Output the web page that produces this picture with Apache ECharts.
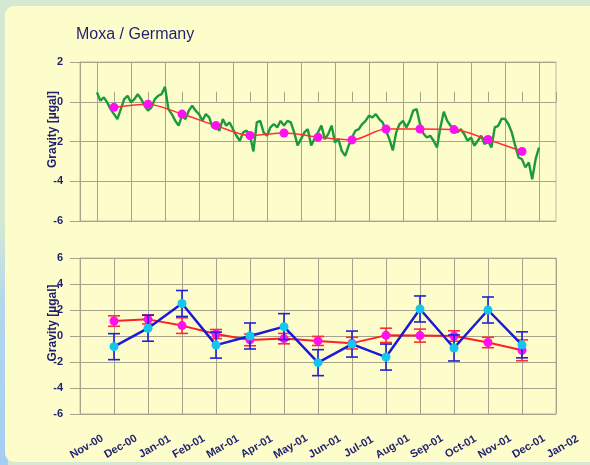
<!DOCTYPE html>
<html>
<head>
<meta charset="utf-8">
<script src="https://cdn.jsdelivr.net/npm/echarts@6/dist/echarts.min.js"></script>
<style>
  html, body { margin: 0; padding: 0; background: #d5e9d2; }
  #chart { width: 590px; height: 465px; }
</style>
</head>
<body>
<div id="chart"></div>
<script>
// Month tick labels along the shared time axis (axis unit = months from Nov-00)
const monthLabels = ['Nov-00', 'Dec-00', 'Jan-01', 'Feb-01', 'Mar-01', 'Apr-01', 'May-01',
  'Jun-01', 'Jul-01', 'Aug-01', 'Sep-01', 'Oct-01', 'Nov-01', 'Dec-01', 'Jan-02'];

// Monthly points are plotted at Dec-00 ... Dec-01
const monthlyAt = [1, 2, 3, 4, 5, 6, 7, 8, 9, 10, 11, 12, 13];

// Continuous gravity residual record [µgal], sampled every 0.1 month from mid Nov-00
const residualStart = 0.5;
const residualStep = 0.1;
const residual = [
  0.47, 0.05, 0.22, -0.03, -0.37, -0.62, -0.87, -0.37, 0.13, 0.30,
  -0.03, 0.13, 0.38, 0.13, -0.20, -0.45, -0.28, 0.13, 0.30, 0.38,
  0.75, -0.37, -0.62, -0.95, -1.20, -0.70, -0.87, -0.45, -0.20, -0.45,
  -0.62, -0.96, -0.62, -0.79, -1.29, -1.29, -1.46, -0.87, -1.20, -1.04,
  -1.38, -1.71, -1.96, -1.54, -1.45, -1.70, -2.50, -1.04, -0.96, -1.54,
  -1.71, -1.29, -1.12, -1.29, -0.96, -1.20, -0.96, -1.04, -1.54, -2.20,
  -1.88, -1.54, -1.38, -2.20, -1.85, -1.54, -1.20, -1.88, -1.63, -1.20,
  -2.05, -1.88, -2.47, -2.72, -2.21, -1.80, -1.46, -1.38, -1.12, -0.96,
  -0.70, -0.79, -0.62, -0.87, -1.04, -1.46, -1.88, -2.45, -1.54, -1.12,
  -0.96, -1.29, -0.96, -0.45, -0.37, -1.12, -1.60, -1.80, -1.71, -1.96,
  -2.30, -1.29, -0.50, -0.96, -1.21, -1.38, -1.54, -1.38, -1.63, -1.96,
  -1.80, -2.21, -1.96, -1.71, -2.13, -1.96, -2.30, -1.29, -1.21, -0.85,
  -0.87, -1.12, -1.54, -2.21, -2.80, -2.89, -3.30, -3.05, -3.90, -2.89,
  -2.30
];

// Monthly means of the residual record [µgal]
const monthlyMean = [-0.28, -0.12, -0.62, -1.20, -1.70, -1.57, -1.78, -1.92, -1.37, -1.37, -1.40, -1.90, -2.50];

// Lower panel: two monthly series with their uncertainties [µgal]
const seriesA = [1.15, 1.28, 0.80, 0.15, -0.30, -0.20, -0.38, -0.55, 0.05, 0.03, 0.00, -0.50, -1.10];
const seriesAErr = [0.40, 0.35, 0.60, 0.35, 0.45, 0.40, 0.35, 0.45, 0.55, 0.50, 0.40, 0.40, 0.80];
const seriesB = [-0.82, 0.60, 2.50, -0.70, 0.00, 0.72, -2.05, -0.62, -1.62, 2.08, -0.92, 2.00, -0.68];
const seriesBErr = [1.00, 1.00, 1.00, 1.00, 1.00, 1.00, 1.00, 1.00, 1.00, 1.00, 1.00, 1.00, 1.00];

const navy = '#1f1f6e';
const gridColor = '#a6a48a';
const textFont = 'Liberation Sans, Arial, sans-serif';

const residualData = residual.map((v, i) => [residualStart + i * residualStep, v]);
const meanData = monthlyMean.map((v, i) => [monthlyAt[i], v]);
const aData = seriesA.map((v, i) => [monthlyAt[i], v]);
const bData = seriesB.map((v, i) => [monthlyAt[i], v]);
const aErrData = seriesA.map((v, i) => [monthlyAt[i], v, seriesAErr[i]]);
const bErrData = seriesB.map((v, i) => [monthlyAt[i], v, seriesBErr[i]]);

function errorBars(color) {
  return function (params, api) {
    const x = api.value(0), v = api.value(1), e = api.value(2);
    const hi = api.coord([x, v + e]);
    const lo = api.coord([x, v - e]);
    const hw = 6;
    const style = { stroke: color, lineWidth: 1.6 };
    return {
      type: 'group',
      children: [
        { type: 'line', shape: { x1: hi[0], y1: hi[1], x2: lo[0], y2: lo[1] }, style },
        { type: 'line', shape: { x1: hi[0] - hw, y1: hi[1], x2: hi[0] + hw, y2: hi[1] }, style },
        { type: 'line', shape: { x1: lo[0] - hw, y1: lo[1], x2: lo[0] + hw, y2: lo[1] }, style }
      ]
    };
  };
}

const yAxisCommon = {
  type: 'value',
  interval: 2,
  name: 'Gravity [µgal]',
  nameLocation: 'middle',
  nameRotate: 90,
  nameGap: 21,
  nameMoveOverlap: false,
  axisLine: { show: true, lineStyle: { color: gridColor, width: 1 } },
  axisTick: { show: true, inside: false, length: 10, lineStyle: { color: gridColor } },
  axisLabel: { color: navy, fontWeight: 'bold', fontSize: 11, fontFamily: textFont, margin: 17 },
  splitLine: { show: true, lineStyle: { color: gridColor, width: 1 } }
};

const chart = echarts.init(document.getElementById('chart'), null, { renderer: 'canvas' });

chart.setOption({
  backgroundColor: '#d5e9d2',
  animation: false,
  graphic: [
    {
      type: 'rect', z: -10,
      shape: { x: 0, y: 220, width: 8, height: 245 },
      style: {
        fill: new echarts.graphic.LinearGradient(0, 0, 0, 1, [
          { offset: 0, color: '#d5e9d2' },
          { offset: 0.35, color: '#b2d6ee' },
          { offset: 1, color: '#a6cdf2' }
        ])
      }
    },
    {
      type: 'rect', z: -9,
      shape: { x: 5, y: 6, width: 620, height: 456, r: 9 },
      style: { fill: '#fdfdcc' }
    }
  ],
  title: {
    text: 'Moxa / Germany',
    left: 71, top: 22,
    textStyle: { color: navy, fontSize: 16, fontWeight: 'normal', fontFamily: textFont }
  },
  grid: [
    { left: 80, top: 62, width: 476, height: 159, show: true, borderColor: '#bdbba3', borderWidth: 1, backgroundColor: 'transparent' },
    { left: 80, top: 258, width: 476, height: 156, show: true, borderColor: '#bdbba3', borderWidth: 1, backgroundColor: 'transparent' }
  ],
  xAxis: [
    {
      type: 'value', gridIndex: 0, min: 0, max: 14, interval: 1,
      axisLine: { show: true, lineStyle: { color: gridColor } },
      axisTick: { show: true, inside: true, length: 10, lineStyle: { color: gridColor } },
      minorTick: { show: true, splitNumber: 2, length: 10, lineStyle: { color: gridColor } },
      minorSplitLine: { show: true, lineStyle: { color: gridColor, width: 1 } },
      splitLine: { show: false },
      axisLabel: { show: false }
    },
    {
      type: 'value', gridIndex: 1, min: 0, max: 14, interval: 1,
      axisLine: { show: true, lineStyle: { color: gridColor } },
      axisTick: { show: true, inside: false, length: 10, lineStyle: { color: gridColor } },
      splitLine: { show: true, lineStyle: { color: gridColor, width: 1 } },
      axisLabel: {
        color: navy, fontWeight: 'bold', fontSize: 11, fontFamily: textFont,
        rotate: 30, align: 'center', verticalAlign: 'top', padding: [8, 0, 0, 0], margin: 21,
        showMinLabel: true, showMaxLabel: true,
        formatter: v => monthLabels[Math.round(v)]
      }
    }
  ],
  yAxis: [
    Object.assign({}, yAxisCommon, {
      gridIndex: 0, min: -6, max: 2,
      nameTextStyle: { color: navy, fontWeight: 'bold', fontSize: 12, fontFamily: textFont, padding: [0, 0, 0, 24] }
    }),
    Object.assign({}, yAxisCommon, {
      gridIndex: 1, min: -6, max: 6,
      nameTextStyle: { color: navy, fontWeight: 'bold', fontSize: 12, fontFamily: textFont, padding: [0, 0, 0, 26] }
    })
  ],
  series: [
    {
      type: 'line', xAxisIndex: 0, yAxisIndex: 0, data: residualData,
      showSymbol: false, lineStyle: { color: '#1a9a3a', width: 2.4 }, z: 2
    },
    {
      type: 'line', xAxisIndex: 0, yAxisIndex: 0, data: meanData, smooth: 0.3,
      symbol: 'circle', symbolSize: 9,
      itemStyle: { color: '#ff10f0' }, lineStyle: { color: '#ff3030', width: 1.5 }, z: 3
    },
    {
      type: 'custom', xAxisIndex: 1, yAxisIndex: 1, data: aErrData,
      encode: { x: 0, y: 1 }, renderItem: errorBars('#ff2e2e'), z: 2
    },
    {
      type: 'line', xAxisIndex: 1, yAxisIndex: 1, data: aData,
      symbol: 'circle', symbolSize: 9,
      itemStyle: { color: '#ff10f0' }, lineStyle: { color: '#ff2020', width: 2 }, z: 3
    },
    {
      type: 'custom', xAxisIndex: 1, yAxisIndex: 1, data: bErrData,
      encode: { x: 0, y: 1 }, renderItem: errorBars('#2020d8'), z: 4
    },
    {
      type: 'line', xAxisIndex: 1, yAxisIndex: 1, data: bData,
      symbol: 'circle', symbolSize: 9,
      itemStyle: { color: '#12c6ee' }, lineStyle: { color: '#1a1ad8', width: 2.5 }, z: 5
    }
  ]
});
</script>
</body>
</html>
